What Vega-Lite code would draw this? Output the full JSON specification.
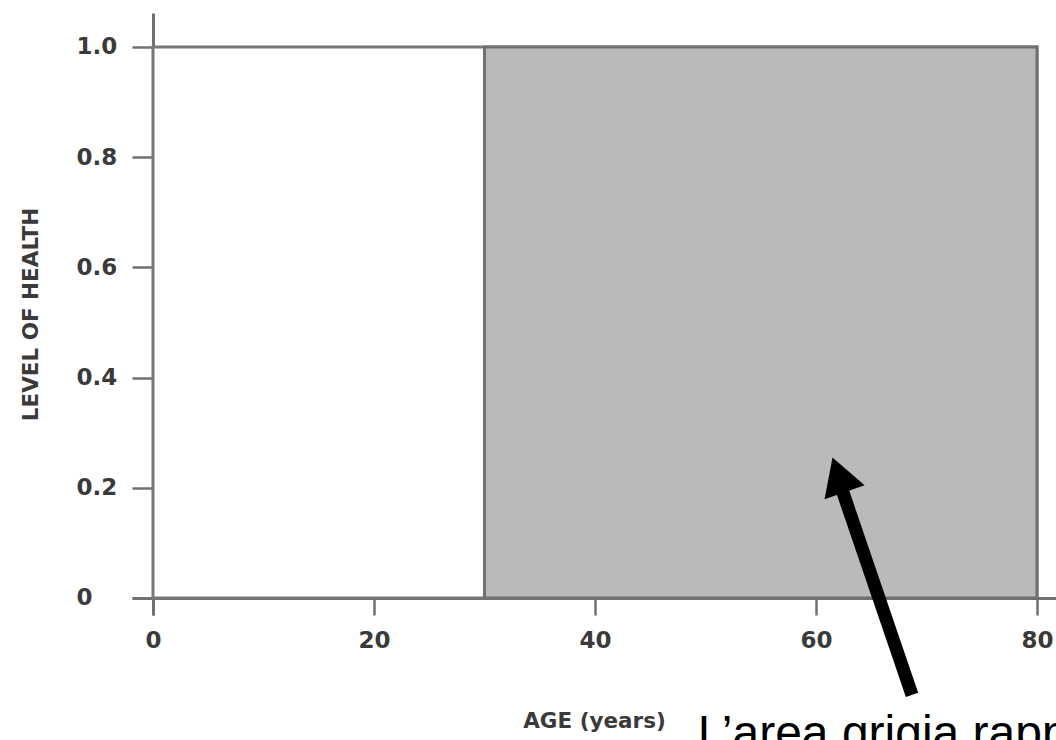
{
  "$schema": "https://vega.github.io/schema/vega-lite/v6.json",
  "width": 924,
  "height": 602,
  "autosize": {"type": "none"},
  "padding": {"left": 132, "top": 13, "right": 0, "bottom": 125},
  "background": "white",
  "config": {
    "view": {"stroke": null},
    "axis": {
      "labelFont": "DejaVu Sans",
      "labelFontSize": 23,
      "labelFontWeight": "bold",
      "labelColor": "#3a3a3a",
      "titleFont": "DejaVu Sans",
      "titleFontSize": 21.5,
      "titleFontWeight": "bold",
      "titleColor": "#3a3a3a",
      "domainColor": "#707070",
      "domainWidth": 3,
      "tickColor": "#707070",
      "tickWidth": 2.5,
      "grid": false
    }
  },
  "datasets": {
    "regions": [
      {"age": 0, "age_end": 80, "health": 0, "health_top": 1, "kind": "frame"},
      {"age": 30, "age_end": 80, "health": 0, "health_top": 1, "kind": "grey"}
    ],
    "arrow": [
      {"age": 68.69, "health": -0.176, "age_end": 62.27, "health_top": 0.2015}
    ],
    "head": [
      {"age": 62.04, "health": 0.2235}
    ],
    "note": [
      {"age": 49.3, "health": -0.274, "label": "L’area grigia rappresenta"}
    ]
  },
  "encoding": {
    "x": {
      "field": "age",
      "type": "quantitative",
      "scale": {"domain": [-1.9, 81.72], "nice": false, "zero": false},
      "axis": {
        "title": "AGE (years)",
        "values": [0, 20, 40, 60, 80],
        "offset": -17,
        "tickSize": 17,
        "labelPadding": 14,
        "titlePadding": 58,
        "labelFlush": false
      }
    },
    "y": {
      "field": "health",
      "type": "quantitative",
      "scale": {"domain": [-0.0309, 1.0617], "nice": false, "zero": false},
      "axis": {
        "title": "LEVEL OF HEALTH",
        "values": [0, 0.2, 0.4, 0.6, 0.8, 1],
        "labelExpr": "datum.value == 0 ? '0' : format(datum.value, '.1f')",
        "offset": -21,
        "tickSize": 21,
        "labelAlign": "left",
        "labelPadding": 56,
        "titlePadding": 34,
        "labelFlush": false
      }
    }
  },
  "layer": [
    {
      "data": {"name": "regions"},
      "transform": [{"filter": "datum.kind == 'frame'"}],
      "mark": {"type": "rect", "fill": "white", "stroke": "#777777", "strokeWidth": 3},
      "encoding": {
        "x2": {"field": "age_end"},
        "y2": {"field": "health_top"}
      }
    },
    {
      "data": {"name": "regions"},
      "transform": [{"filter": "datum.kind == 'grey'"}],
      "mark": {"type": "rect", "fill": "#bababa", "stroke": "#707070", "strokeWidth": 3},
      "encoding": {
        "x2": {"field": "age_end"},
        "y2": {"field": "health_top"}
      }
    },
    {
      "data": {"name": "arrow"},
      "mark": {"type": "rule", "color": "black", "strokeWidth": 13, "strokeCap": "butt"},
      "encoding": {
        "x2": {"field": "age_end"},
        "y2": {"field": "health_top"}
      }
    },
    {
      "data": {"name": "head"},
      "mark": {"type": "point", "shape": "triangle-up", "filled": true, "color": "black", "opacity": 1, "size": 1800, "angle": 340.8},
      "encoding": {}
    },
    {
      "data": {"name": "note"},
      "mark": {"type": "text", "font": "Liberation Sans", "fontSize": 48, "align": "left", "baseline": "alphabetic", "color": "black"},
      "encoding": {
        "text": {"field": "label"}
      }
    }
  ]
}
